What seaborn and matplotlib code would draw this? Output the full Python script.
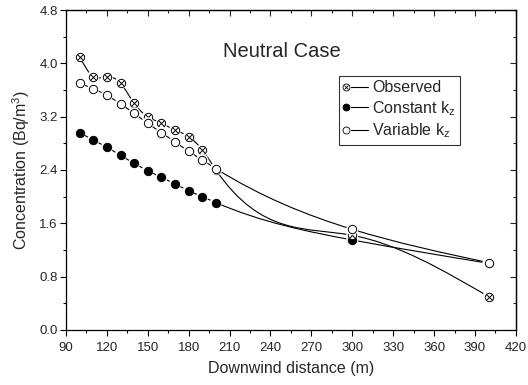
import numpy as np
import pandas as pd
import matplotlib
matplotlib.use("Agg")
import matplotlib.pyplot as plt
import seaborn as sns
from matplotlib.path import Path
from matplotlib.patches import PathPatch
from matplotlib.lines import Line2D
from matplotlib.legend_handler import HandlerBase

# ---- data ----
distance = [100, 110, 120, 130, 140, 150, 160, 170, 180, 190, 200, 300, 400]
observed = [4.10, 3.80, 3.80, 3.70, 3.40, 3.20, 3.10, 3.00, 2.90, 2.70, 2.40, 1.42, 0.50]
constant_kz = [2.96, 2.85, 2.74, 2.62, 2.50, 2.39, 2.29, 2.19, 2.09, 2.00, 1.91, 1.35, 1.00]
variable_kz = [3.70, 3.62, 3.52, 3.39, 3.25, 3.10, 2.96, 2.82, 2.68, 2.55, 2.42, 1.51, 1.01]
series_names = ["Observed", "Constant k$_z$", "Variable k$_z$"]
x_ticks = [90, 120, 150, 180, 210, 240, 270, 300, 330, 360, 390, 420]
y_ticks = [0.0, 0.8, 1.6, 2.4, 3.2, 4.0, 4.8]

sns.set_style("ticks")
plt.rcParams["font.family"] = ["Liberation Sans", "DejaVu Sans"]
plt.rcParams["mathtext.default"] = "regular"

fig = plt.figure(figsize=(5.28, 3.85), dpi=100)
ax = fig.add_axes([0.125, 0.143, 0.852, 0.831])


def spline_path(xs, ys):
    """Smooth (natural cubic spline) connection drawn as Bezier segments."""
    x = np.asarray(xs, float)
    y = np.asarray(ys, float)
    n = len(x)
    h = np.diff(x)
    A = np.zeros((n, n))
    b = np.zeros(n)
    A[0, 0] = 1
    A[-1, -1] = 1
    for i in range(1, n - 1):
        A[i, i - 1] = h[i - 1]
        A[i, i] = 2 * (h[i - 1] + h[i])
        A[i, i + 1] = h[i]
        b[i] = 6 * ((y[i + 1] - y[i]) / h[i] - (y[i] - y[i - 1]) / h[i - 1])
    M = np.linalg.solve(A, b)
    m = np.zeros(n)
    for i in range(n - 1):
        m[i] = (y[i + 1] - y[i]) / h[i] - h[i] * (2 * M[i] + M[i + 1]) / 6
    m[-1] = (y[-1] - y[-2]) / h[-1] + h[-1] * (M[-2] + 2 * M[-1]) / 6
    verts = [(x[0], y[0])]
    codes = [Path.MOVETO]
    for i in range(n - 1):
        verts += [(x[i] + h[i] / 3, y[i] + m[i] * h[i] / 3),
                  (x[i + 1] - h[i] / 3, y[i + 1] - m[i + 1] * h[i] / 3),
                  (x[i + 1], y[i + 1])]
        codes += [Path.CURVE4] * 3
    return Path(verts, codes)


for vals in (constant_kz, observed, variable_kz):
    ax.add_patch(PathPatch(spline_path(distance, vals), facecolor="none",
                           edgecolor="black", lw=0.8, zorder=2))

df = pd.DataFrame({"distance": distance, "observed": observed,
                   "constant": constant_kz, "variable": variable_kz})

ms = 36
halo = 75
# constant k_z
sns.scatterplot(data=df, x="distance", y="constant", ax=ax, s=halo, color="white",
                edgecolor="none", zorder=3, legend=False)
sns.scatterplot(data=df, x="distance", y="constant", ax=ax, s=ms, color="black",
                edgecolor="black", linewidth=0.7, zorder=4, legend=False)
# observed
sns.scatterplot(data=df, x="distance", y="observed", ax=ax, s=halo, color="white",
                edgecolor="none", zorder=3, legend=False)
sns.scatterplot(data=df, x="distance", y="observed", ax=ax, s=ms, color="white",
                edgecolor="black", linewidth=0.7, zorder=4, legend=False)
sns.scatterplot(data=df, x="distance", y="observed", ax=ax, s=16, marker="x",
                color="black", linewidth=0.7, zorder=4, legend=False)
# variable k_z
sns.scatterplot(data=df, x="distance", y="variable", ax=ax, s=halo, color="white",
                edgecolor="none", zorder=5, legend=False)
sns.scatterplot(data=df, x="distance", y="variable", ax=ax, s=ms, color="white",
                edgecolor="black", linewidth=0.7, zorder=6, legend=False)

ax.set_xlim(90, 420)
ax.set_ylim(0, 4.8)
ax.set_xticks(x_ticks)
ax.set_yticks(y_ticks)
ax.set_yticklabels([f"{v:.1f}" for v in y_ticks])
ax.set_xticks([105 + 30 * i for i in range(11)], minor=True)
ax.set_yticks([0.4 + 0.8 * i for i in range(6)], minor=True)
ax.tick_params(which="major", direction="out", length=4, width=0.8,
               labelsize=9.5, pad=2, color="black")
ax.tick_params(axis="x", which="major", pad=5)
ax.tick_params(which="minor", direction="out", length=2.5, width=0.8, color="black")
for s in ax.spines.values():
    s.set_linewidth(0.9)
    s.set_color("black")

top = ax.secondary_xaxis("top")
top.set_xticks(x_ticks)
top.set_xticks([105 + 30 * i for i in range(11)], minor=True)
top.tick_params(which="major", direction="in", length=4, width=0.8, labeltop=False)
top.tick_params(which="minor", direction="in", length=2.5, width=0.8)
right = ax.secondary_yaxis("right")
right.set_yticks(y_ticks)
right.set_yticks([0.4 + 0.8 * i for i in range(6)], minor=True)
right.tick_params(which="major", direction="in", length=4, width=0.8, labelright=False)
right.tick_params(which="minor", direction="in", length=2.5, width=0.8)
for sec in (top, right):
    for s in sec.spines.values():
        s.set_linewidth(0.9)

ax.set_xlabel("Downwind distance (m)", fontsize=11.5, labelpad=5)
ax.set_ylabel("Concentration (Bq/m$^3$)", fontsize=11.5, labelpad=5)

ax.text(0.48, 0.87, "Neutral Case", transform=ax.transAxes, fontsize=14.5,
        ha="center", va="center")


class MarkerLeftHandler(HandlerBase):
    def create_artists(self, legend, orig_handle, xdescent, ydescent,
                       width, height, fontsize, trans):
        y = height / 2 - ydescent
        x0 = -xdescent
        artists = [Line2D([x0 + width * 0.3, x0 + width], [y, y], color="black",
                          lw=0.8, transform=trans)]
        for mk in orig_handle:
            artists.append(Line2D([x0 + width * 0.08], [y], linestyle="none",
                                  marker=mk["marker"], markersize=mk["ms"],
                                  markerfacecolor=mk["fc"], markeredgecolor="black",
                                  markeredgewidth=0.6, transform=trans))
        return artists


class H(list):
    pass


h_obs = H([dict(marker="o", ms=5, fc="white"), dict(marker="x", ms=3.2, fc="black")])
h_con = H([dict(marker="o", ms=5, fc="black")])
h_var = H([dict(marker="o", ms=5, fc="white")])
leg = ax.legend([h_obs, h_con, h_var], series_names, loc="upper left",
                bbox_to_anchor=(0.607, 0.795), fontsize=11.5, frameon=True,
                fancybox=False, edgecolor="black", handlelength=1.5,
                handletextpad=0.25, labelspacing=0.22, borderpad=0.3,
                borderaxespad=0, handler_map={H: MarkerLeftHandler()})
leg.get_frame().set_linewidth(0.8)

fig.savefig("out.png", dpi=100)
